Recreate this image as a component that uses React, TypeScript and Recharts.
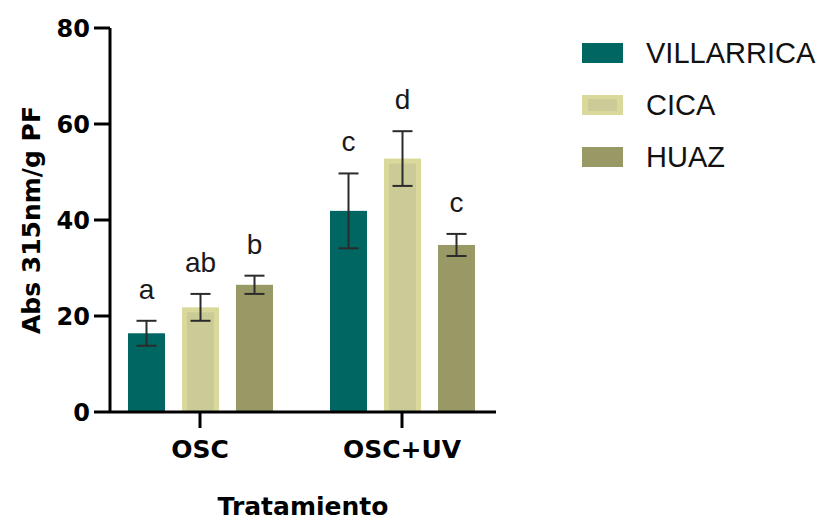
import { Bar, BarChart, ErrorBar, Label, LabelList, XAxis, YAxis } from "recharts";

const treatments = ["OSC", "OSC+UV"];
const villarrica = [16.4, 41.9];
const villarricaErr = [2.6, 7.8];
const cica = [21.8, 52.8];
const cicaErr = [2.8, 5.7];
const huaz = [26.5, 34.8];
const huazErr = [1.9, 2.3];
const villarricaLetters = ["a", "c"];
const cicaLetters = ["ab", "d"];
const huazLetters = ["b", "c"];
const yTicks = [0, 20, 40, 60, 80];

const SANS = "'Liberation Sans', Arial, sans-serif";
const BOLD = "'DejaVu Sans', sans-serif";

const series = [
  { key: "VILLARRICA", values: villarrica, errs: villarricaErr, letters: villarricaLetters, fill: "#006661", inner: null },
  { key: "CICA", values: cica, errs: cicaErr, letters: cicaLetters, fill: "#d9d99b", inner: "#cbcb98" },
  { key: "HUAZ", values: huaz, errs: huazErr, letters: huazLetters, fill: "#999966", inner: null },
];

const data = treatments.map((t, i) => {
  const row: Record<string, string | number> = { treatment: t };
  series.forEach((s) => {
    row[s.key] = s.values[i];
    row[s.key + "_err"] = s.errs[i];
    row[s.key + "_letter"] = s.letters[i];
  });
  return row;
});

const insetShape = (outer: string, inner: string | null) => (props: any) => {
  const { x, y, width, height } = props;
  if (!inner) return <rect x={x} y={y} width={width} height={height} fill={outer} />;
  return (
    <g>
      <rect x={x} y={y} width={width} height={height} fill={outer} />
      <rect x={x + 5} y={y + 5} width={width - 10} height={Math.max(0, height - 5)} fill={inner} />
    </g>
  );
};

const letterLabel = (values: number[], errs: number[]) => (props: any) => {
  const vb = props.viewBox || props;
  const { x, y, width, height } = vb;
  const i = props.index ?? 0;
  const capTop = y - (errs[i] * height) / values[i];
  return (
    <text x={x + width / 2} y={capTop - 22} textAnchor="middle" fontSize={28} fontFamily={SANS} fill="#1a1a1a">
      {props.value}
    </text>
  );
};

const YTitle = (props: any) => {
  const { y, height } = props.viewBox;
  const cy = y + height / 2;
  return (
    <text x={31} y={cy} transform={`rotate(-90, 31, ${cy})`} textAnchor="middle" dominantBaseline="central"
      fontSize={25} fontWeight="bold" fontFamily={BOLD} fill="#000">
      Abs 315nm/g PF
    </text>
  );
};

const XTitle = (props: any) => {
  const { x, width } = props.viewBox;
  return (
    <text x={x + width / 2} y={515} textAnchor="middle" fontSize={25} fontWeight="bold" fontFamily={BOLD} fill="#000">
      Tratamiento
    </text>
  );
};

export default function App() {
  return (
    <div style={{ position: "absolute", left: 0, top: 0, width: 826, height: 520, background: "#fff" }}>
      <BarChart width={826} height={520} data={data} margin={{ top: 28, right: 330, bottom: 0, left: 0 }} barSize={37} barGap={17}>
        <XAxis
          dataKey="treatment"
          height={108}
          padding={{ left: -11, right: -7 }}
          tickSize={16}
          tickMargin={12}
          axisLine={{ stroke: "#000", strokeWidth: 3 }}
          tickLine={{ stroke: "#000", strokeWidth: 3 }}
          tick={{ fontSize: 25, fontWeight: "bold", fill: "#000", fontFamily: BOLD }}
        >
          <Label content={XTitle} />
        </XAxis>
        <YAxis
          domain={[0, 80]}
          ticks={yTicks}
          width={110}
          tickSize={16}
          tickMargin={4}
          axisLine={{ stroke: "#000", strokeWidth: 3 }}
          tickLine={{ stroke: "#000", strokeWidth: 3 }}
          tick={{ fontSize: 24, fontWeight: "bold", fill: "#000", fontFamily: BOLD }}
        >
          <Label content={YTitle} />
        </YAxis>
        {series.map((s) => (
          <Bar key={s.key} dataKey={s.key} fill={s.fill} shape={insetShape(s.fill, s.inner)} isAnimationActive={false}>
            <ErrorBar dataKey={s.key + "_err"} width={10} stroke="#2b2b2b" strokeWidth={2} direction="y" isAnimationActive={false} />
            <LabelList dataKey={s.key + "_letter"} content={letterLabel(s.values, s.errs)} />
          </Bar>
        ))}
      </BarChart>
      {series.map((s, i) => (
        <div key={s.key} style={{ position: "absolute", left: 582, top: 43 + i * 52, height: 20, display: "flex", alignItems: "center" }}>
          <div style={{ width: 41, height: 20, background: s.fill, position: "relative" }}>
            {s.inner && <div style={{ position: "absolute", left: 6, top: 4, right: 6, bottom: 4, background: s.inner }} />}
          </div>
          <span style={{ marginLeft: 23, fontSize: 29, lineHeight: "20px", fontFamily: SANS, color: "#111" }}>{s.key}</span>
        </div>
      ))}
    </div>
  );
}
